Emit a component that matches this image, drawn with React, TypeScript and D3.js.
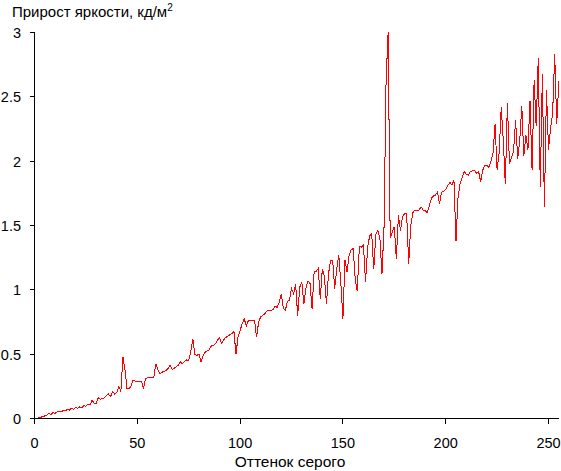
import React from "react";
import * as d3 from "d3";

const brightnessIncrease: number[] = [
  0, 0.002, 0.005, 0.008, 0.016, 0.02, 0.025, 0.04, 0.03, 0.045,
  0.04, 0.05, 0.055, 0.05, 0.065, 0.06, 0.07, 0.065, 0.08, 0.07,
  0.085, 0.08, 0.09, 0.085, 0.1, 0.095, 0.11, 0.105, 0.14, 0.12,
  0.12, 0.16, 0.15, 0.155, 0.16, 0.18, 0.19, 0.17, 0.21, 0.19,
  0.2, 0.25, 0.21, 0.48, 0.38, 0.23, 0.23, 0.255, 0.3, 0.29,
  0.29, 0.29, 0.29, 0.23, 0.31, 0.316, 0.316, 0.316, 0.316, 0.425,
  0.38, 0.35, 0.36, 0.365, 0.375, 0.39, 0.415, 0.38, 0.39, 0.405,
  0.415, 0.44, 0.425, 0.445, 0.455, 0.45, 0.52, 0.62, 0.5, 0.49,
  0.5, 0.44, 0.485, 0.515, 0.525, 0.535, 0.565, 0.565, 0.58, 0.61,
  0.63, 0.585, 0.61, 0.63, 0.64, 0.65, 0.66, 0.675, 0.5, 0.635,
  0.685, 0.735, 0.775, 0.72, 0.76, 0.765, 0.765, 0.765, 0.63, 0.75,
  0.79, 0.8, 0.815, 0.835, 0.84, 0.84, 0.845, 0.87, 0.865, 0.9,
  0.97, 0.86, 0.84, 0.91, 0.92, 1.01, 0.97, 1.045, 0.8, 1.02,
  1.06, 0.89, 1.01, 1.07, 1.05, 0.85, 1.14, 1.145, 1.165, 0.93,
  1.165, 1.1, 0.89, 1.125, 1.23, 1.23, 1.01, 1.165, 1.27, 1.05,
  0.775, 1.23, 1.14, 1.27, 1.31, 1.32, 1.08, 0.99, 1.34, 1.33,
  1.35, 1.06, 1.325, 1.42, 1.435, 1.16, 1.43, 1.46, 1.4, 1.12,
  1.49, 2.63, 3.0, 1.4, 1.45, 1.49, 1.24, 1.58, 1.46, 1.57,
  1.59, 1.59, 1.2, 1.5, 1.6, 1.62, 1.62, 1.62, 1.645, 1.62,
  1.615, 1.6, 1.65, 1.71, 1.73, 1.735, 1.76, 1.67, 1.76, 1.765,
  1.78, 1.81, 1.835, 1.815, 1.85, 1.38, 1.72, 1.825, 1.875, 1.92,
  1.9, 1.89, 1.92, 1.925, 1.93, 1.905, 1.92, 1.84, 1.93, 1.97,
  1.97, 1.95, 2.0, 2.06, 2.29, 1.93, 2.07, 2.42, 2.16, 1.82,
  2.45, 1.98, 2.03, 2.08, 2.32, 2.02, 2.16, 2.43, 2.04, 2.2,
  2.09, 2.47, 1.93, 2.63, 2.27, 2.8, 1.8, 2.68, 1.64, 2.55,
  2.09, 2.26, 2.37, 2.83, 2.29, 2.62,
];
const grayLevels: number[] = brightnessIncrease.map((_, i) => i);

const xTicks: number[] = [0, 50, 100, 150, 200, 250];
const yTicks: number[] = [0, 0.5, 1, 1.5, 2, 2.5, 3];

const yTitle = "Прирост яркости, кд/м";
const yTitleSup = "2";
const xTitle = "Оттенок серого";

const W = 561;
const H = 471;
const FONT = "'Liberation Sans', Arial, sans-serif";

export default function App() {
  const x = d3.scaleLinear().domain([0, 255]).range([34.5, 558.8]);
  const y = d3.scaleLinear().domain([0, 3]).range([418.5, 32.5]);
  const line = d3
    .line<number>()
    .x((_, i) => x(grayLevels[i]))
    .y((d) => y(d));

  return (
    <svg
      width={W}
      height={H}
      style={{ position: "absolute", left: 0, top: 0, background: "#fff" }}
      fontFamily={FONT}
    >
      <rect x={0} y={0} width={W} height={H} fill="#fff" />
      <path
        d={line(brightnessIncrease) || ""}
        fill="none"
        stroke="#ff0000"
        strokeWidth={1}
        shapeRendering="crispEdges"
      />
      <line x1={x(0)} x2={x(0)} y1={y(3)} y2={y(0)} stroke="#000" shapeRendering="crispEdges" />
      <line x1={x(0)} x2={x(255)} y1={y(0)} y2={y(0)} stroke="#000" shapeRendering="crispEdges" />
      {yTicks.map((t) => (
        <g key={"y" + t}>
          <line x1={x(0) - 5} x2={x(0)} y1={y(t)} y2={y(t)} stroke="#000" shapeRendering="crispEdges" />
          <text x={21} y={y(t) + 5.5} textAnchor="end" fontSize={14.5} fill="#000">
            {String(t)}
          </text>
        </g>
      ))}
      {xTicks.map((t) => (
        <g key={"x" + t}>
          <line x1={x(t)} x2={x(t)} y1={y(0)} y2={y(0) + 5} stroke="#000" shapeRendering="crispEdges" />
          <text x={x(t)} y={447.5} textAnchor="middle" fontSize={14.5} fill="#000">
            {String(t)}
          </text>
        </g>
      ))}
      <text x={12} y={17} fontSize={15} fill="#000">
        {yTitle}
        <tspan dy={-6} fontSize={10}>
          {yTitleSup}
        </tspan>
      </text>
      <text x={290} y={467} textAnchor="middle" fontSize={15.5} fill="#000">
        {xTitle}
      </text>
    </svg>
  );
}
